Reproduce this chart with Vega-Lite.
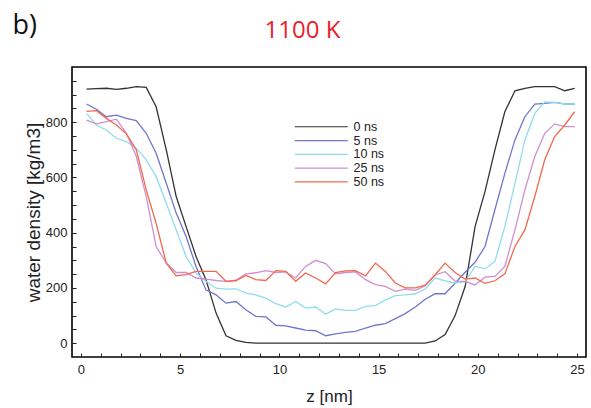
{
  "$schema": "https://vega.github.io/schema/vega-lite/v6.json",
  "width": 514,
  "height": 290,
  "autosize": {"type": "none"},
  "padding": {"left": 72, "top": 67, "right": 5, "bottom": 51},
  "background": "white",
  "config": {
    "view": {"stroke": "#000", "strokeWidth": 1.6},
    "axis": {"labelFont": "Liberation Sans", "labelFontSize": 13, "labelColor": "#222", "titleFont": "Liberation Sans", "titleFontWeight": "normal", "titleColor": "#222", "tickColor": "#222", "domain": false, "grid": false}
  },
  "datasets": {
    "profiles": [
      {"s":"0 ns","z":0.28,"v":920},{"s":"0 ns","z":0.78,"v":922},{"s":"0 ns","z":1.28,"v":923},{"s":"0 ns","z":1.79,"v":919},{"s":"0 ns","z":2.29,"v":923},{"s":"0 ns","z":2.79,"v":929},{"s":"0 ns","z":3.29,"v":926},{"s":"0 ns","z":3.79,"v":856},{"s":"0 ns","z":4.30,"v":700},{"s":"0 ns","z":4.80,"v":531},
      {"s":"0 ns","z":5.30,"v":422},{"s":"0 ns","z":5.80,"v":314},{"s":"0 ns","z":6.30,"v":230},{"s":"0 ns","z":6.81,"v":109},{"s":"0 ns","z":7.31,"v":27},{"s":"0 ns","z":7.81,"v":10},{"s":"0 ns","z":8.31,"v":3},{"s":"0 ns","z":8.81,"v":0},{"s":"0 ns","z":9.32,"v":0},{"s":"0 ns","z":9.82,"v":0},
      {"s":"0 ns","z":10.32,"v":0},{"s":"0 ns","z":10.82,"v":0},{"s":"0 ns","z":11.32,"v":0},{"s":"0 ns","z":11.83,"v":0},{"s":"0 ns","z":12.33,"v":0},{"s":"0 ns","z":12.83,"v":0},{"s":"0 ns","z":13.33,"v":0},{"s":"0 ns","z":13.83,"v":0},{"s":"0 ns","z":14.34,"v":0},{"s":"0 ns","z":14.84,"v":0},
      {"s":"0 ns","z":15.34,"v":0},{"s":"0 ns","z":15.84,"v":0},{"s":"0 ns","z":16.34,"v":0},{"s":"0 ns","z":16.85,"v":0},{"s":"0 ns","z":17.35,"v":0},{"s":"0 ns","z":17.85,"v":8},{"s":"0 ns","z":18.35,"v":31},{"s":"0 ns","z":18.85,"v":99},{"s":"0 ns","z":19.36,"v":205},{"s":"0 ns","z":19.86,"v":422},
      {"s":"0 ns","z":20.36,"v":549},{"s":"0 ns","z":20.86,"v":700},{"s":"0 ns","z":21.36,"v":838},{"s":"0 ns","z":21.87,"v":914},{"s":"0 ns","z":22.37,"v":923},{"s":"0 ns","z":22.87,"v":929},{"s":"0 ns","z":23.37,"v":929},{"s":"0 ns","z":23.87,"v":929},{"s":"0 ns","z":24.38,"v":914},{"s":"0 ns","z":24.88,"v":923},

      {"s":"5 ns","z":0.28,"v":866},{"s":"5 ns","z":0.78,"v":847},{"s":"5 ns","z":1.28,"v":820},{"s":"5 ns","z":1.79,"v":826},{"s":"5 ns","z":2.29,"v":814},{"s":"5 ns","z":2.79,"v":806},{"s":"5 ns","z":3.29,"v":760},{"s":"5 ns","z":3.79,"v":688},{"s":"5 ns","z":4.30,"v":579},{"s":"5 ns","z":4.80,"v":471},
      {"s":"5 ns","z":5.30,"v":386},{"s":"5 ns","z":5.80,"v":278},{"s":"5 ns","z":6.30,"v":193},{"s":"5 ns","z":6.81,"v":175},{"s":"5 ns","z":7.31,"v":145},{"s":"5 ns","z":7.81,"v":151},{"s":"5 ns","z":8.31,"v":121},{"s":"5 ns","z":8.81,"v":97},{"s":"5 ns","z":9.32,"v":95},{"s":"5 ns","z":9.82,"v":65},
      {"s":"5 ns","z":10.32,"v":63},{"s":"5 ns","z":10.82,"v":55},{"s":"5 ns","z":11.32,"v":47},{"s":"5 ns","z":11.83,"v":45},{"s":"5 ns","z":12.33,"v":27},{"s":"5 ns","z":12.83,"v":34},{"s":"5 ns","z":13.33,"v":39},{"s":"5 ns","z":13.83,"v":43},{"s":"5 ns","z":14.34,"v":55},{"s":"5 ns","z":14.84,"v":65},
      {"s":"5 ns","z":15.34,"v":71},{"s":"5 ns","z":15.84,"v":89},{"s":"5 ns","z":16.34,"v":107},{"s":"5 ns","z":16.85,"v":131},{"s":"5 ns","z":17.35,"v":159},{"s":"5 ns","z":17.85,"v":179},{"s":"5 ns","z":18.35,"v":179},{"s":"5 ns","z":18.85,"v":217},{"s":"5 ns","z":19.36,"v":257},{"s":"5 ns","z":19.86,"v":293},
      {"s":"5 ns","z":20.36,"v":350},{"s":"5 ns","z":20.86,"v":483},{"s":"5 ns","z":21.36,"v":615},{"s":"5 ns","z":21.87,"v":736},{"s":"5 ns","z":22.37,"v":820},{"s":"5 ns","z":22.87,"v":866},{"s":"5 ns","z":23.37,"v":868},{"s":"5 ns","z":23.87,"v":872},{"s":"5 ns","z":24.38,"v":866},{"s":"5 ns","z":24.88,"v":866},

      {"s":"10 ns","z":0.28,"v":832},{"s":"10 ns","z":0.78,"v":790},{"s":"10 ns","z":1.28,"v":772},{"s":"10 ns","z":1.79,"v":742},{"s":"10 ns","z":2.29,"v":730},{"s":"10 ns","z":2.79,"v":706},{"s":"10 ns","z":3.29,"v":664},{"s":"10 ns","z":3.79,"v":603},{"s":"10 ns","z":4.30,"v":507},{"s":"10 ns","z":4.80,"v":410},
      {"s":"10 ns","z":5.30,"v":314},{"s":"10 ns","z":5.80,"v":254},{"s":"10 ns","z":6.30,"v":224},{"s":"10 ns","z":6.81,"v":199},{"s":"10 ns","z":7.31,"v":196},{"s":"10 ns","z":7.81,"v":197},{"s":"10 ns","z":8.31,"v":181},{"s":"10 ns","z":8.81,"v":175},{"s":"10 ns","z":9.32,"v":163},{"s":"10 ns","z":9.82,"v":143},
      {"s":"10 ns","z":10.32,"v":131},{"s":"10 ns","z":10.82,"v":151},{"s":"10 ns","z":11.32,"v":127},{"s":"10 ns","z":11.83,"v":131},{"s":"10 ns","z":12.33,"v":105},{"s":"10 ns","z":12.83,"v":124},{"s":"10 ns","z":13.33,"v":119},{"s":"10 ns","z":13.83,"v":119},{"s":"10 ns","z":14.34,"v":133},{"s":"10 ns","z":14.84,"v":136},
      {"s":"10 ns","z":15.34,"v":157},{"s":"10 ns","z":15.84,"v":172},{"s":"10 ns","z":16.34,"v":175},{"s":"10 ns","z":16.85,"v":179},{"s":"10 ns","z":17.35,"v":196},{"s":"10 ns","z":17.85,"v":236},{"s":"10 ns","z":18.35,"v":226},{"s":"10 ns","z":18.85,"v":218},{"s":"10 ns","z":19.36,"v":223},{"s":"10 ns","z":19.86,"v":278},
      {"s":"10 ns","z":20.36,"v":269},{"s":"10 ns","z":20.86,"v":296},{"s":"10 ns","z":21.36,"v":422},{"s":"10 ns","z":21.87,"v":579},{"s":"10 ns","z":22.37,"v":736},{"s":"10 ns","z":22.87,"v":832},{"s":"10 ns","z":23.37,"v":874},{"s":"10 ns","z":23.87,"v":872},{"s":"10 ns","z":24.38,"v":866},{"s":"10 ns","z":24.88,"v":866},

      {"s":"25 ns","z":0.28,"v":808},{"s":"25 ns","z":0.78,"v":794},{"s":"25 ns","z":1.28,"v":802},{"s":"25 ns","z":1.79,"v":811},{"s":"25 ns","z":2.29,"v":760},{"s":"25 ns","z":2.79,"v":676},{"s":"25 ns","z":3.29,"v":531},{"s":"25 ns","z":3.79,"v":350},{"s":"25 ns","z":4.30,"v":290},{"s":"25 ns","z":4.80,"v":256},
      {"s":"25 ns","z":5.30,"v":256},{"s":"25 ns","z":5.80,"v":236},{"s":"25 ns","z":6.30,"v":232},{"s":"25 ns","z":6.81,"v":227},{"s":"25 ns","z":7.31,"v":224},{"s":"25 ns","z":7.81,"v":228},{"s":"25 ns","z":8.31,"v":251},{"s":"25 ns","z":8.81,"v":255},{"s":"25 ns","z":9.32,"v":263},{"s":"25 ns","z":9.82,"v":256},
      {"s":"25 ns","z":10.32,"v":258},{"s":"25 ns","z":10.82,"v":236},{"s":"25 ns","z":11.32,"v":278},{"s":"25 ns","z":11.83,"v":300},{"s":"25 ns","z":12.33,"v":288},{"s":"25 ns","z":12.83,"v":251},{"s":"25 ns","z":13.33,"v":256},{"s":"25 ns","z":13.83,"v":258},{"s":"25 ns","z":14.34,"v":230},{"s":"25 ns","z":14.84,"v":212},
      {"s":"25 ns","z":15.34,"v":206},{"s":"25 ns","z":15.84,"v":188},{"s":"25 ns","z":16.34,"v":196},{"s":"25 ns","z":16.85,"v":191},{"s":"25 ns","z":17.35,"v":208},{"s":"25 ns","z":17.85,"v":247},{"s":"25 ns","z":18.35,"v":259},{"s":"25 ns","z":18.85,"v":225},{"s":"25 ns","z":19.36,"v":224},{"s":"25 ns","z":19.86,"v":211},
      {"s":"25 ns","z":20.36,"v":239},{"s":"25 ns","z":20.86,"v":242},{"s":"25 ns","z":21.36,"v":278},{"s":"25 ns","z":21.87,"v":410},{"s":"25 ns","z":22.37,"v":555},{"s":"25 ns","z":22.87,"v":676},{"s":"25 ns","z":23.37,"v":760},{"s":"25 ns","z":23.87,"v":794},{"s":"25 ns","z":24.38,"v":784},{"s":"25 ns","z":24.88,"v":784},

      {"s":"50 ns","z":0.28,"v":839},{"s":"50 ns","z":0.78,"v":842},{"s":"50 ns","z":1.28,"v":814},{"s":"50 ns","z":1.79,"v":790},{"s":"50 ns","z":2.29,"v":758},{"s":"50 ns","z":2.79,"v":700},{"s":"50 ns","z":3.29,"v":555},{"s":"50 ns","z":3.79,"v":434},{"s":"50 ns","z":4.30,"v":290},{"s":"50 ns","z":4.80,"v":244},
      {"s":"50 ns","z":5.30,"v":248},{"s":"50 ns","z":5.80,"v":260},{"s":"50 ns","z":6.30,"v":260},{"s":"50 ns","z":6.81,"v":260},{"s":"50 ns","z":7.31,"v":224},{"s":"50 ns","z":7.81,"v":226},{"s":"50 ns","z":8.31,"v":245},{"s":"50 ns","z":8.81,"v":230},{"s":"50 ns","z":9.32,"v":227},{"s":"50 ns","z":9.82,"v":263},
      {"s":"50 ns","z":10.32,"v":260},{"s":"50 ns","z":10.82,"v":224},{"s":"50 ns","z":11.32,"v":254},{"s":"50 ns","z":11.83,"v":236},{"s":"50 ns","z":12.33,"v":215},{"s":"50 ns","z":12.83,"v":256},{"s":"50 ns","z":13.33,"v":262},{"s":"50 ns","z":13.83,"v":263},{"s":"50 ns","z":14.34,"v":244},{"s":"50 ns","z":14.84,"v":290},
      {"s":"50 ns","z":15.34,"v":260},{"s":"50 ns","z":15.84,"v":218},{"s":"50 ns","z":16.34,"v":200},{"s":"50 ns","z":16.85,"v":200},{"s":"50 ns","z":17.35,"v":210},{"s":"50 ns","z":17.85,"v":248},{"s":"50 ns","z":18.35,"v":290},{"s":"50 ns","z":18.85,"v":256},{"s":"50 ns","z":19.36,"v":232},{"s":"50 ns","z":19.86,"v":236},
      {"s":"50 ns","z":20.36,"v":217},{"s":"50 ns","z":20.86,"v":226},{"s":"50 ns","z":21.36,"v":251},{"s":"50 ns","z":21.87,"v":350},{"s":"50 ns","z":22.37,"v":410},{"s":"50 ns","z":22.87,"v":531},{"s":"50 ns","z":23.37,"v":664},{"s":"50 ns","z":23.87,"v":748},{"s":"50 ns","z":24.38,"v":790},{"s":"50 ns","z":24.88,"v":838}
    ],
    "anchor": [{"z": 12, "v": 500}]
  },
  "layer": [
    {
      "data": {"name": "profiles"},
      "mark": {"type": "line", "strokeWidth": 1.3},
      "encoding": {
        "x": {"field": "z", "type": "quantitative",
          "scale": {"domain": [-0.45, 25.45], "nice": false, "zero": false},
          "axis": {"orient": "bottom", "title": "z [nm]", "titleFontSize": 17, "titlePadding": 12,
            "values": [0,1,2,3,4,5,6,7,8,9,10,11,12,13,14,15,16,17,18,19,20,21,22,23,24,25],
            "labelExpr": "datum.value % 5 === 0 ? datum.label : ''",
            "tickSize": -4, "labelPadding": 10, "labelFlush": false}},
        "y": {"field": "v", "type": "quantitative",
          "scale": {"domain": [-50, 1000], "nice": false, "zero": false},
          "axis": {"orient": "left", "title": "water density [kg/m3]", "titleFontSize": 19, "titlePadding": 2,
            "values": [0,50,100,150,200,250,300,350,400,450,500,550,600,650,700,750,800,850,900,950],
            "labelExpr": "datum.value % 200 === 0 ? datum.label : ''",
            "tickSize": -4, "labelPadding": 9, "labelFlush": false}},
        "color": {"field": "s", "type": "nominal",
          "scale": {"domain": ["0 ns", "5 ns", "10 ns", "25 ns", "50 ns"], "range": ["#333333", "#6f76cc", "#8fdcec", "#cf8fd0", "#f4674f"]},
          "legend": {"orient": "none", "legendX": 243, "legendY": 53.5, "title": null, "padding": 0,
            "symbolType": "M-5.3,0H5.3", "symbolSize": 100, "symbolStrokeWidth": 1.2,
            "labelFont": "Liberation Sans", "labelFontSize": 12.5, "labelColor": "#222", "labelOffset": 26, "rowPadding": 0.8}}
      }
    },
    {
      "data": {"name": "anchor"},
      "mark": {"type": "point", "opacity": 0},
      "encoding": {
        "x": {"field": "z", "type": "quantitative",
          "axis": {"orient": "top", "labels": false, "ticks": false, "domain": false,
            "title": "1100 K", "titleColor": "#e8212b", "titleFont": "Open Sans", "titleFontSize": 24,
            "titleX": 230, "titleY": -30, "titleAlign": "center", "titleBaseline": "alphabetic", "titleAngle": 0}},
        "y": {"field": "v", "type": "quantitative",
          "axis": {"orient": "right", "labels": false, "ticks": false, "domain": false,
            "title": "b)", "titleColor": "#111", "titleFont": "Open Sans", "titleFontSize": 27,
            "titleX": -574, "titleY": -34, "titleAlign": "left", "titleBaseline": "alphabetic", "titleAngle": 0}}
      }
    }
  ],
  "resolve": {"axis": {"x": "independent", "y": "independent"}}
}
